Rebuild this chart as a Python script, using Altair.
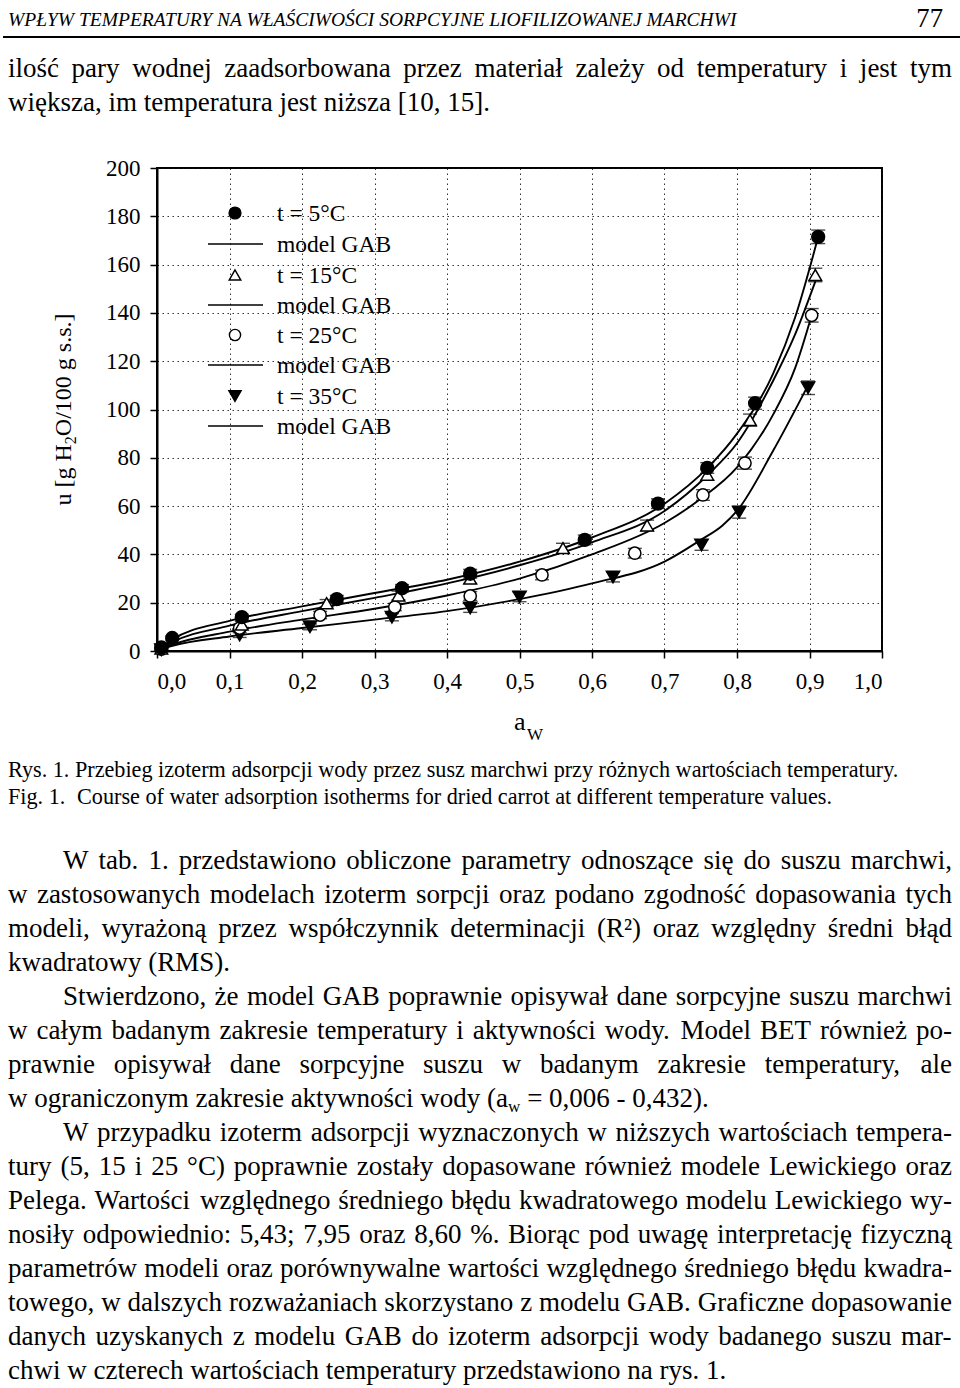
import altair as alt
import pandas as pd

# ----------------------------- chart values -----------------------------
X_TICKS = [0.0, 0.1, 0.2, 0.3, 0.4, 0.5, 0.6, 0.7, 0.8, 0.9, 1.0]
Y_TICKS = [0, 20, 40, 60, 80, 100, 120, 140, 160, 180, 200]

AW_T5 = [0.006, 0.021, 0.117, 0.248, 0.338, 0.432, 0.590, 0.691, 0.759, 0.825, 0.912]
U_T5 = [1.5, 5.4, 14.0, 21.5, 26.0, 32.0, 46.0, 61.0, 75.8, 102.6, 171.5]
ERR_T5 = [0.5, 0.8, 1.2, 1.5, 1.5, 1.8, 2.0, 2.0, 2.2, 2.5, 2.8]

AW_T15 = [0.006, 0.117, 0.234, 0.333, 0.432, 0.560, 0.676, 0.759, 0.818, 0.908]
U_T15 = [1.0, 11.0, 19.8, 23.0, 30.0, 42.6, 52.0, 73.0, 95.6, 155.7]
ERR_T15 = [0.5, 1.2, 1.5, 1.8, 2.0, 2.0, 2.2, 2.2, 2.5, 2.8]

AW_T25 = [0.006, 0.114, 0.225, 0.328, 0.432, 0.531, 0.659, 0.753, 0.811, 0.903]
U_T25 = [0.8, 9.5, 14.9, 18.2, 22.8, 31.5, 40.5, 64.6, 77.8, 139.0]
ERR_T25 = [0.5, 1.0, 1.5, 1.5, 1.8, 2.0, 2.0, 2.2, 2.5, 2.8]

AW_T35 = [0.006, 0.114, 0.211, 0.324, 0.432, 0.500, 0.629, 0.751, 0.803, 0.898]
U_T35 = [0.5, 6.6, 10.0, 14.0, 17.8, 22.4, 30.6, 43.9, 57.5, 109.0]
ERR_T35 = [0.5, 1.0, 1.2, 1.5, 1.8, 2.0, 2.0, 2.2, 2.5, 2.8]

GAB_AW_T5 = [0.0, 0.02, 0.1, 0.2, 0.3, 0.4, 0.5, 0.6, 0.7, 0.76, 0.8, 0.85, 0.88, 0.912]
GAB_U_T5 = [0.0, 4.5, 12.5, 18.5, 24.0, 29.5, 37.0, 47.0, 61.0, 76.0, 90.0, 115.0, 138.0, 171.5]
GAB_AW_T15 = [0.0, 0.02, 0.1, 0.2, 0.3, 0.4, 0.5, 0.6, 0.7, 0.76, 0.8, 0.85, 0.88, 0.908]
GAB_U_T15 = [0.0, 3.5, 10.5, 16.5, 22.0, 28.0, 35.5, 45.0, 58.0, 73.0, 86.0, 112.0, 131.0, 153.0]
GAB_AW_T25 = [0.0, 0.02, 0.1, 0.2, 0.3, 0.4, 0.5, 0.6, 0.7, 0.75, 0.8, 0.85, 0.88, 0.903]
GAB_U_T25 = [0.0, 2.5, 8.0, 13.0, 17.5, 23.0, 30.0, 40.0, 53.0, 63.0, 76.0, 98.0, 117.0, 139.0]
GAB_AW_T35 = [0.0, 0.02, 0.1, 0.2, 0.3, 0.4, 0.5, 0.6, 0.7, 0.75, 0.78, 0.8, 0.85, 0.898]
GAB_U_T35 = [0.0, 2.0, 6.0, 9.5, 13.0, 16.5, 21.5, 28.0, 37.0, 46.0, 52.0, 58.0, 83.0, 110.0]

LEGEND_LABELS = ["t = 5°C", "model GAB", "t = 15°C", "model GAB",
                 "t = 25°C", "model GAB", "t = 35°C", "model GAB"]

HEADER = "WPŁYW TEMPERATURY NA WŁAŚCIWOŚCI SORPCYJNE LIOFILIZOWANEJ MARCHWI"
PAGE_NO = "77"
TOP_LINES = [
    ("ilość pary wodnej zaadsorbowana przez materiał zależy od temperatury i jest tym", True, False),
    ("większa, im temperatura jest niższa [10, 15].", False, False),
]
CAPTION_PL = "Rys. 1. Przebieg izoterm adsorpcji wody przez susz marchwi przy różnych wartościach temperatury."
CAPTION_EN_A = "Fig. 1."
CAPTION_EN_B = "Course of water adsorption isotherms for dried carrot at different temperature values."
PARAGRAPHS = [
    ("W tab. 1. przedstawiono obliczone parametry odnoszące się do suszu marchwi,", True, True),
    ("w zastosowanych modelach izoterm sorpcji oraz podano zgodność dopasowania tych", True, False),
    ("modeli, wyrażoną przez współczynnik determinacji (R²) oraz względny średni błąd", True, False),
    ("kwadratowy (RMS).", False, False),
    ("Stwierdzono, że model GAB poprawnie opisywał dane sorpcyjne suszu marchwi", True, True),
    ("w całym badanym zakresie temperatury i aktywności wody. Model BET również po-", True, False),
    ("prawnie opisywał dane sorpcyjne suszu w badanym zakresie temperatury, ale", True, False),
    ("AW_LINE", False, False),
    ("W przypadku izoterm adsorpcji wyznaczonych w niższych wartościach tempera-", True, True),
    ("tury (5, 15 i 25 °C) poprawnie zostały dopasowane również modele Lewickiego oraz", True, False),
    ("Pelega. Wartości względnego średniego błędu kwadratowego modelu Lewickiego wy-", True, False),
    ("nosiły odpowiednio: 5,43; 7,95 oraz 8,60 %. Biorąc pod uwagę interpretację fizyczną", True, False),
    ("parametrów modeli oraz porównywalne wartości względnego średniego błędu kwadra-", True, False),
    ("towego, w dalszych rozważaniach skorzystano z modelu GAB. Graficzne dopasowanie", True, False),
    ("danych uzyskanych z modelu GAB do izoterm adsorpcji wody badanego suszu mar-", True, False),
    ("chwi w czterech wartościach temperatury przedstawiono na rys. 1.", False, False),
]
AW_LINE_PARTS = ("w ograniczonym zakresie aktywności wody (a", "w", "= 0,006 - 0,432).")

# ----------------------------- layout -----------------------------
FONT = "Liberation Serif"
PL, PT, PW, PH = 157, 168, 725, 483          # plot box on the page
PAGE_W, PAGE_H = 960, 1388
BODY_FS, CAP_FS, HEAD_FS = 27, 22.2, 19.5
LEFT, RIGHT, INDENT = 8, 952, 63

CW = {' ': 250, '!': 333, '%': 833, '(': 333, ')': 333, ',': 250, '-': 333, '.': 250,
      '/': 278, ':': 278, ';': 278, '=': 564, '[': 333, ']': 333, '°': 400, '²': 300,
      'A': 722, 'B': 667, 'C': 667, 'D': 722, 'E': 611, 'F': 556, 'G': 722, 'H': 722,
      'I': 333, 'J': 389, 'K': 722, 'L': 611, 'M': 889, 'N': 722, 'O': 722, 'P': 556,
      'Q': 722, 'R': 667, 'S': 556, 'T': 611, 'U': 722, 'V': 722, 'W': 944, 'X': 722,
      'Y': 722, 'Z': 611,
      'a': 444, 'b': 500, 'c': 444, 'd': 500, 'e': 444, 'f': 333, 'g': 500, 'h': 500,
      'i': 278, 'j': 278, 'k': 500, 'l': 278, 'm': 778, 'n': 500, 'o': 500, 'p': 500,
      'q': 500, 'r': 333, 's': 389, 't': 278, 'u': 500, 'v': 500, 'w': 722, 'x': 500,
      'y': 500, 'z': 444,
      'ą': 444, 'ć': 444, 'ę': 444, 'ł': 278, 'ń': 500, 'ó': 500, 'ś': 389, 'ź': 444,
      'ż': 444, 'Ł': 611, 'Ś': 556, 'Ż': 611}


def tw(s, fs):
    return sum(CW.get(c, 500) for c in s) * fs / 1000.0


rows = []


def add(t, x, y, fs):
    rows.append({"px": x - PL, "py": y - PT, "t": t, "fs": fs})


def set_line(line, y, justified, indent, fs):
    left = LEFT + (INDENT - LEFT if indent else 0)
    if not justified:
        add(line, left, y, fs)
        return
    words = line.split(" ")
    total = sum(tw(w, fs) for w in words)
    gap = (RIGHT - left - total) / (len(words) - 1)
    x = left
    for w in words:
        add(w, x, y, fs)
        x += tw(w, fs) + gap


# page number
add(PAGE_NO, 943 - tw(PAGE_NO, 26.7), 27, 26.7)
# top paragraph
for i, (ln, j, ind) in enumerate(TOP_LINES):
    set_line(ln, 77 + 34 * i, j, ind, BODY_FS)
# captions
add(CAPTION_PL, LEFT, 777, CAP_FS)
add(CAPTION_EN_A, LEFT, 804, CAP_FS)
add(CAPTION_EN_B, 77, 804, CAP_FS)
# lower paragraphs
for i, (ln, j, ind) in enumerate(PARAGRAPHS):
    y = 869 + 34 * i
    if ln == "AW_LINE":
        a, sub, b = AW_LINE_PARTS
        add(a, LEFT, y, BODY_FS)
        x1 = LEFT + tw(a, BODY_FS)
        add(sub, x1, y + 5, 17)
        add(b, x1 + tw(sub, 17) + tw(" ", BODY_FS), y, BODY_FS)
    else:
        set_line(ln, y, j, ind, BODY_FS)

# legend texts (page coords)
LEG_TEXT_Y = [221, 252, 283, 313, 343, 373, 404, 434]
for lab, yy in zip(LEGEND_LABELS, LEG_TEXT_Y):
    add(lab, 277, yy, 23.5)

# x-axis title  a_W
add("a", 514, 730, 26)
add("W", 527, 740, 17)

text_df = pd.DataFrame(rows)
head_df = pd.DataFrame([{"px": LEFT - PL, "py": 26 - PT, "t": HEADER, "fs": HEAD_FS}])

# rotated y title pieces: u [g H2O/100 g s.s.]
YT_FS, YT_SUB = 24, 16
p1, p2, p3 = "u [g H", "2", "O/100 g s.s.]"
ytot = tw(p1, YT_FS) + tw(p2, YT_SUB) + tw(p3, YT_FS)
y0 = PT + PH / 2 + ytot / 2
yt_df = pd.DataFrame([
    {"px": 71 - PL, "py": y0 - PT, "t": p1, "fs": YT_FS},
    {"px": 76 - PL, "py": y0 - tw(p1, YT_FS) - PT, "t": p2, "fs": YT_SUB},
    {"px": 71 - PL, "py": y0 - tw(p1, YT_FS) - tw(p2, YT_SUB) - PT, "t": p3, "fs": YT_FS},
])

# rules: header line + legend model lines
rule_df = pd.DataFrame([
    {"px": 3 - PL, "px2": PAGE_W - PL, "py": 37 - PT, "sw": 2.2},
    {"px": 208 - PL, "px2": 263 - PL, "py": 244 - PT, "sw": 1.7},
    {"px": 208 - PL, "px2": 263 - PL, "py": 305 - PT, "sw": 1.7},
    {"px": 208 - PL, "px2": 263 - PL, "py": 365 - PT, "sw": 1.7},
    {"px": 208 - PL, "px2": 263 - PL, "py": 426 - PT, "sw": 1.7},
])

# ----------------------------- data frames -----------------------------
SERIES = {
    "t5": (AW_T5, U_T5, ERR_T5, GAB_AW_T5, GAB_U_T5),
    "t15": (AW_T15, U_T15, ERR_T15, GAB_AW_T15, GAB_U_T15),
    "t25": (AW_T25, U_T25, ERR_T25, GAB_AW_T25, GAB_U_T25),
    "t35": (AW_T35, U_T35, ERR_T35, GAB_AW_T35, GAB_U_T35),
}
pts, gab = {}, []
for k, (aw, u, err, gaw, gu) in SERIES.items():
    d = pd.DataFrame({"aw": aw, "u": u, "err": err})
    d["lo"] = d["u"] - d["err"]
    d["hi"] = d["u"] + d["err"]
    d["s"] = k
    pts[k] = d
    gab.append(pd.DataFrame({"aw": gaw, "u": gu, "s": k, "o": range(len(gaw))}))
pts_all = pd.concat(pts.values(), ignore_index=True)
gab_df = pd.concat(gab, ignore_index=True)

xs = alt.Scale(domain=[0, 1], nice=False, zero=False)
ys = alt.Scale(domain=[0, 200], nice=False)
x_axis = alt.Axis(values=X_TICKS, title=None,
                  labelExpr="replace(format(datum.value, '.1f'), '.', ',')")
y_axis = alt.Axis(values=Y_TICKS, title=None)

X = alt.X("aw:Q", scale=xs, axis=x_axis)
Y = alt.Y("u:Q", scale=ys, axis=y_axis)

lines = alt.Chart(gab_df).mark_line(interpolate="monotone", color="black", strokeWidth=1.9).encode(
    x=X, y=Y, detail="s:N", order="o:Q")

err_rule = alt.Chart(pts_all).mark_rule(color="black", strokeWidth=1.2).encode(
    x=X, y=alt.Y("lo:Q", scale=ys, axis=y_axis), y2="hi:Q")
err_lo = alt.Chart(pts_all).mark_tick(orient="horizontal", color="black", size=14, thickness=1.4).encode(
    x=X, y=alt.Y("lo:Q", scale=ys, axis=y_axis))
err_hi = alt.Chart(pts_all).mark_tick(orient="horizontal", color="black", size=14, thickness=1.4).encode(
    x=X, y=alt.Y("hi:Q", scale=ys, axis=y_axis))

STYLE = {
    "t5": dict(shape="circle", filled=True, fill="black", stroke="black", size=165),
    "t15": dict(shape="triangle-up", filled=True, fill="white", stroke="black", size=160),
    "t25": dict(shape="circle", filled=True, fill="white", stroke="black", size=150),
    "t35": dict(shape="triangle-down", filled=True, fill="black", stroke="black", size=175),
}
point_layers = []
for k in ["t35", "t25", "t15", "t5"]:
    st = STYLE[k]
    point_layers.append(alt.Chart(pts[k]).mark_point(opacity=1, strokeWidth=1.5, **st).encode(x=X, y=Y))

data_layer = alt.layer(lines, err_rule, err_lo, err_hi, *point_layers)

# legend markers
LEG_MARK_Y = [213, 275, 335, 396]
leg_layers = []
for k, yy in zip(["t5", "t15", "t25", "t35"], LEG_MARK_Y):
    st = dict(STYLE[k])
    st["size"] = st["size"] - 25
    dfm = pd.DataFrame([{"px": 235 - PL, "py": yy - PT}])
    leg_layers.append(alt.Chart(dfm).mark_point(opacity=1, strokeWidth=1.4, **st).encode(
        x=alt.X("px:Q", scale=None, axis=None), y=alt.Y("py:Q", scale=None, axis=None)))

PX = alt.X("px:Q", scale=None, axis=None)
PY = alt.Y("py:Q", scale=None, axis=None)
FS = alt.Size("fs:Q", scale=None, legend=None)

text_layer = alt.Chart(text_df).mark_text(align="left", baseline="alphabetic", font=FONT,
                                          color="black").encode(x=PX, y=PY, text="t:N", size=FS)
head_layer = alt.Chart(head_df).mark_text(align="left", baseline="alphabetic", font=FONT,
                                          fontStyle="italic", color="black").encode(
    x=PX, y=PY, text="t:N", size=FS)
yt_layer = alt.Chart(yt_df).mark_text(align="left", baseline="alphabetic", font=FONT, angle=270,
                                      color="black").encode(x=PX, y=PY, text="t:N", size=FS)
rule_layer = alt.Chart(rule_df).mark_rule(color="black").encode(
    x=PX, x2="px2:Q", y=PY, strokeWidth=alt.StrokeWidth("sw:Q", scale=None, legend=None))

chart = alt.layer(data_layer, rule_layer, *leg_layers, text_layer, head_layer, yt_layer).resolve_scale(
    x="independent", y="independent", size="independent"
).properties(
    width=PW, height=PH,
    padding={"left": PL, "top": PT, "right": PAGE_W - PL - PW, "bottom": PAGE_H - PT - PH},
    autosize=alt.AutoSizeParams(type="none"),
    background="white",
).configure_view(stroke="black", strokeWidth=2).configure_axis(
    labelFont=FONT, labelFontSize=23, labelColor="black",
    domainColor="black", domainWidth=2, tickColor="black", tickWidth=1.5, tickSize=7,
    grid=True, gridColor="#111", gridDash=[1.5, 3.5], gridWidth=1, gridOpacity=0.85,
).configure_axisX(labelPadding=12).configure_axisY(labelPadding=10)

chart.save("out.html", embed_options={"renderer": "svg", "actions": False})
